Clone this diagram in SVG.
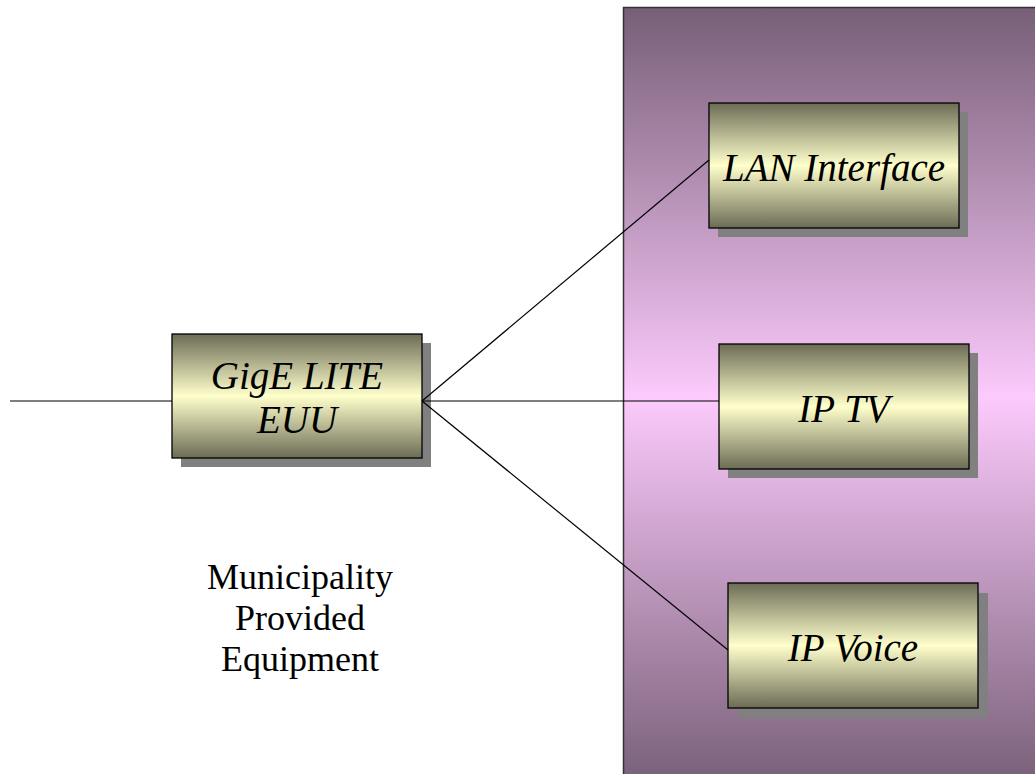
<svg xmlns="http://www.w3.org/2000/svg" width="1035" height="774" viewBox="0 0 1035 774">
<defs>
<linearGradient id="panel" x1="0" y1="0" x2="0" y2="1">
<stop offset="0" stop-color="#775f77"/>
<stop offset="0.5" stop-color="#fccafc"/>
<stop offset="1" stop-color="#775f77"/>
</linearGradient>
<linearGradient id="box" x1="0" y1="0" x2="0" y2="1">
<stop offset="0" stop-color="#6c6c56"/>
<stop offset="0.5" stop-color="#ffffcc"/>
<stop offset="1" stop-color="#6c6c56"/>
</linearGradient>
</defs>
<style>
.shadow{fill:#808080}
.box{fill:url(#box);stroke:#000;stroke-width:1.3}
.lbl{font-family:"Liberation Serif",serif;font-style:italic;font-size:39px;fill:#000;text-anchor:middle}
.note{font-family:"Liberation Serif",serif;font-size:36px;fill:#000;text-anchor:middle}
.conn{stroke:#000;stroke-width:1.2;fill:none}
</style>
<rect id="panel-bg" x="623.5" y="7.5" width="420" height="780" fill="url(#panel)" stroke="#333" stroke-width="1.5"/>
<g id="gige">
<rect class="shadow" x="181" y="343" width="250" height="124"/>
<rect class="box" x="172" y="334" width="250" height="124"/>
<text class="lbl" x="297" y="389">GigE LITE</text>
<text class="lbl" x="297" y="433">EUU</text>
</g>
<g id="lan">
<rect class="shadow" x="718" y="112" width="250" height="125"/>
<rect class="box" x="709" y="103" width="250" height="125"/>
<text class="lbl" x="834" y="181">LAN Interface</text>
</g>
<g id="iptv">
<rect class="shadow" x="728" y="353" width="250" height="125"/>
<rect class="box" x="719" y="344" width="250" height="125"/>
<text class="lbl" x="844" y="422">IP TV</text>
</g>
<g id="ipvoice">
<rect class="shadow" x="738" y="593" width="250" height="125"/>
<rect class="box" x="728" y="583" width="250" height="125"/>
<text class="lbl" x="853" y="661">IP Voice</text>
</g>
<g id="municipality">
<text class="note" x="300" y="589">Municipality</text>
<text class="note" x="300" y="630">Provided</text>
<text class="note" x="300" y="671">Equipment</text>
</g>
<g id="connectors">
<line class="conn" x1="10" y1="401" x2="172" y2="401"/>
<line class="conn" x1="422" y1="401" x2="709" y2="160"/>
<line class="conn" x1="422" y1="401" x2="719" y2="401"/>
<line class="conn" x1="422" y1="401" x2="728" y2="650"/>
</g>
</svg>
